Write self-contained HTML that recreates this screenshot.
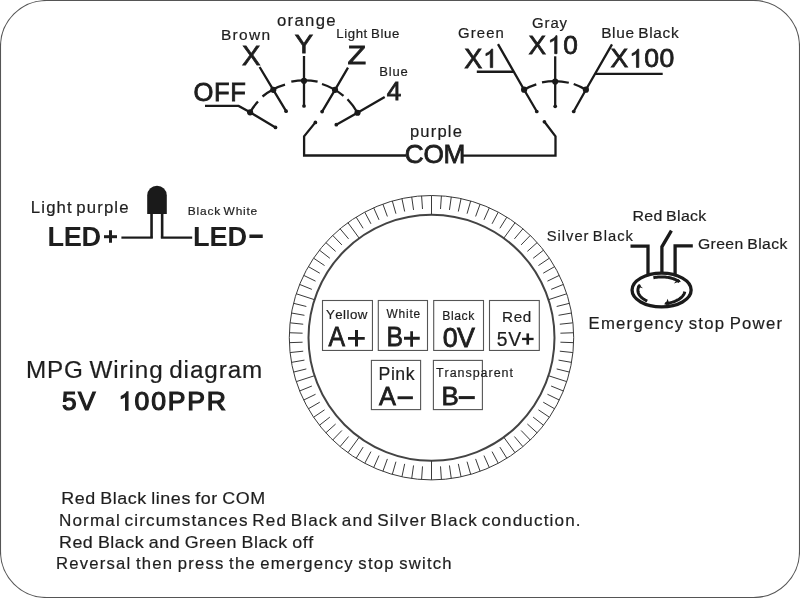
<!DOCTYPE html>
<html><head><meta charset="utf-8">
<style>
html,body{margin:0;padding:0;background:#fff;}
svg{display:block;will-change:transform;}
text{font-family:"Liberation Sans",sans-serif;font-kerning:none;fill:#1e1e1e;}
</style></head><body>
<svg width="800" height="598" viewBox="0 0 800 598">
<rect width="800" height="598" fill="#fff"/>
<polyline points="259.60,67.00 273.30,89.80 286.10,111.20" fill="none" stroke="#1a1a1a" stroke-width="2.3" stroke-linejoin="miter" stroke-linecap="butt"/>
<circle cx="273.30" cy="89.80" r="3.1" fill="#1a1a1a"/>
<circle cx="286.10" cy="111.20" r="1.85" fill="#1a1a1a"/>
<polyline points="304.00,56.00 304.00,106.00" fill="none" stroke="#1a1a1a" stroke-width="2.3" stroke-linejoin="miter" stroke-linecap="butt"/>
<circle cx="304.00" cy="80.80" r="3.1" fill="#1a1a1a"/>
<circle cx="304.00" cy="106.00" r="1.85" fill="#1a1a1a"/>
<polyline points="348.00,67.70 335.00,89.80 322.10,111.60" fill="none" stroke="#1a1a1a" stroke-width="2.3" stroke-linejoin="miter" stroke-linecap="butt"/>
<circle cx="335.00" cy="89.80" r="3.1" fill="#1a1a1a"/>
<circle cx="322.10" cy="111.60" r="1.85" fill="#1a1a1a"/>
<polyline points="384.70,97.00 357.50,112.75 336.30,124.70" fill="none" stroke="#1a1a1a" stroke-width="2.3" stroke-linejoin="miter" stroke-linecap="butt"/>
<circle cx="357.50" cy="112.75" r="3.1" fill="#1a1a1a"/>
<circle cx="336.30" cy="124.70" r="1.85" fill="#1a1a1a"/>
<polyline points="205.00,105.90 238.60,105.90 250.10,112.30 275.50,127.40" fill="none" stroke="#1a1a1a" stroke-width="2.3" stroke-linejoin="miter" stroke-linecap="butt"/>
<circle cx="250.10" cy="112.30" r="3.1" fill="#1a1a1a"/>
<circle cx="275.50" cy="127.40" r="1.85" fill="#1a1a1a"/>
<polyline points="315.40,122.40 304.10,136.40 304.10,155.50 406.00,155.50" fill="none" stroke="#1a1a1a" stroke-width="2.3" stroke-linejoin="miter" stroke-linecap="butt"/>
<circle cx="315.40" cy="122.40" r="1.85" fill="#1a1a1a"/>
<path d="M250.10,112.30 A62.7,62.7 0 0 1 258.00,101.50" fill="none" stroke="#1a1a1a" stroke-width="2.3"/>
<path d="M262.50,96.50 A62.7,62.7 0 0 1 285.00,84.60" fill="none" stroke="#1a1a1a" stroke-width="2.3"/>
<path d="M291.30,81.70 A62.7,62.7 0 0 1 317.60,81.70" fill="none" stroke="#1a1a1a" stroke-width="2.3"/>
<path d="M322.00,84.00 A62.7,62.7 0 0 1 343.50,95.90" fill="none" stroke="#1a1a1a" stroke-width="2.3"/>
<path d="M347.50,99.25 A62.7,62.7 0 0 1 357.50,112.75" fill="none" stroke="#1a1a1a" stroke-width="2.3"/>
<polyline points="498.00,44.10 524.10,89.70 536.80,111.50" fill="none" stroke="#1a1a1a" stroke-width="2.3" stroke-linejoin="miter" stroke-linecap="butt"/>
<circle cx="524.10" cy="89.70" r="3.1" fill="#1a1a1a"/>
<circle cx="536.80" cy="111.50" r="1.85" fill="#1a1a1a"/>
<polyline points="476.80,71.75 513.80,71.75" fill="none" stroke="#1a1a1a" stroke-width="2.3" stroke-linejoin="miter" stroke-linecap="butt"/>
<polyline points="555.20,56.30 555.20,106.30" fill="none" stroke="#1a1a1a" stroke-width="2.3" stroke-linejoin="miter" stroke-linecap="butt"/>
<circle cx="555.20" cy="81.60" r="3.1" fill="#1a1a1a"/>
<circle cx="555.20" cy="106.30" r="1.85" fill="#1a1a1a"/>
<polyline points="612.00,44.40 585.90,89.70 573.70,111.50" fill="none" stroke="#1a1a1a" stroke-width="2.3" stroke-linejoin="miter" stroke-linecap="butt"/>
<circle cx="585.90" cy="89.70" r="3.1" fill="#1a1a1a"/>
<circle cx="573.70" cy="111.50" r="1.85" fill="#1a1a1a"/>
<polyline points="595.10,73.80 662.70,73.80" fill="none" stroke="#1a1a1a" stroke-width="2.3" stroke-linejoin="miter" stroke-linecap="butt"/>
<polyline points="544.40,121.75 555.50,136.40 555.50,155.60 463.00,155.60" fill="none" stroke="#1a1a1a" stroke-width="2.3" stroke-linejoin="miter" stroke-linecap="butt"/>
<circle cx="544.40" cy="121.75" r="1.85" fill="#1a1a1a"/>
<path d="M524.10,89.70 A63,63 0 0 1 536.30,84.40" fill="none" stroke="#1a1a1a" stroke-width="2.3"/>
<path d="M542.00,82.40 A63,63 0 0 1 568.80,82.75" fill="none" stroke="#1a1a1a" stroke-width="2.3"/>
<path d="M573.70,84.00 A63,63 0 0 1 585.90,89.70" fill="none" stroke="#1a1a1a" stroke-width="2.3"/>
<path d="M147.2,214 L147.2,195.5 A9.8,9.8 0 0 1 166.8,195.5 L166.8,214 Z" fill="#1a1a1a"/>
<polyline points="151.55,213.00 151.55,237.60" fill="none" stroke="#1a1a1a" stroke-width="2.6" stroke-linejoin="miter" stroke-linecap="butt"/>
<polyline points="162.15,213.00 162.15,237.60" fill="none" stroke="#1a1a1a" stroke-width="2.6" stroke-linejoin="miter" stroke-linecap="butt"/>
<polyline points="121.40,237.60 152.85,237.60" fill="none" stroke="#1a1a1a" stroke-width="2.2" stroke-linejoin="miter" stroke-linecap="butt"/>
<polyline points="160.85,237.60 192.20,237.60" fill="none" stroke="#1a1a1a" stroke-width="2.2" stroke-linejoin="miter" stroke-linecap="butt"/>
<rect x="249.4" y="234.5" width="13.35" height="3.5" fill="#1e1e1e"/>
<circle cx="431.5" cy="337.7" r="142.2" fill="none" stroke="#3a3a3a" stroke-width="1"/>
<circle cx="431.5" cy="337.7" r="123" fill="none" stroke="#444" stroke-width="2"/>
<path d="M431.50,214.70L431.50,195.50M440.50,209.01L441.42,195.85M449.45,209.96L451.29,196.88M458.32,211.52L461.07,198.61M467.06,213.70L470.70,201.01M475.62,216.48L480.14,204.08M483.97,219.85L489.34,207.79M492.06,223.80L498.26,212.14M499.86,228.30L506.85,217.11M503.80,238.19L515.08,222.66M514.42,238.88L522.90,228.77M521.11,244.91L530.28,235.41M527.37,251.38L537.18,242.55M533.15,258.28L543.56,250.15M538.45,265.56L549.39,258.18M543.22,273.20L554.65,266.60M547.44,281.15L559.31,275.36M551.11,289.38L563.35,284.43M548.48,299.69L566.74,293.76M556.67,306.49L569.48,303.30M558.54,315.30L571.54,313.01M559.79,324.22L572.92,322.84M560.42,333.20L573.61,332.74M560.42,342.20L573.61,342.66M559.79,351.18L572.92,352.56M558.54,360.10L571.54,362.39M556.67,368.91L569.48,372.10M548.48,375.71L566.74,381.64M551.11,386.02L563.35,390.97M547.44,394.25L559.31,400.04M543.22,402.20L554.65,408.80M538.45,409.84L549.39,417.22M533.15,417.12L543.56,425.25M527.37,424.02L537.18,432.85M521.11,430.49L530.28,439.99M514.42,436.52L522.90,446.63M503.80,437.21L515.08,452.74M499.86,447.10L506.85,458.29M492.06,451.60L498.26,463.26M483.97,455.55L489.34,467.61M475.62,458.92L480.14,471.32M467.06,461.70L470.70,474.39M458.32,463.88L461.07,476.79M449.45,465.44L451.29,478.52M440.50,466.39L441.42,479.55M431.50,460.70L431.50,479.90M422.50,466.39L421.58,479.55M413.55,465.44L411.71,478.52M404.68,463.88L401.93,476.79M395.94,461.70L392.30,474.39M387.38,458.92L382.86,471.32M379.03,455.55L373.66,467.61M370.94,451.60L364.74,463.26M363.14,447.10L356.15,458.29M359.20,437.21L347.92,452.74M348.58,436.52L340.10,446.63M341.89,430.49L332.72,439.99M335.63,424.02L325.82,432.85M329.85,417.12L319.44,425.25M324.55,409.84L313.61,417.22M319.78,402.20L308.35,408.80M315.56,394.25L303.69,400.04M311.89,386.02L299.65,390.97M314.52,375.71L296.26,381.64M306.33,368.91L293.52,372.10M304.46,360.10L291.46,362.39M303.21,351.18L290.08,352.56M302.58,342.20L289.39,342.66M302.58,333.20L289.39,332.74M303.21,324.22L290.08,322.84M304.46,315.30L291.46,313.01M306.33,306.49L293.52,303.30M314.52,299.69L296.26,293.76M311.89,289.38L299.65,284.43M315.56,281.15L303.69,275.36M319.78,273.20L308.35,266.60M324.55,265.56L313.61,258.18M329.85,258.28L319.44,250.15M335.63,251.38L325.82,242.55M341.89,244.91L332.72,235.41M348.58,238.88L340.10,228.77M359.20,238.19L347.92,222.66M363.14,228.30L356.15,217.11M370.94,223.80L364.74,212.14M379.03,219.85L373.66,207.79M387.38,216.48L382.86,204.08M395.94,213.70L392.30,201.01M404.68,211.52L401.93,198.61M413.55,209.96L411.71,196.88M422.50,209.01L421.58,195.85" stroke="#3a3a3a" stroke-width="1" fill="none"/>
<rect x="322.50" y="300.50" width="49.95" height="49.95" fill="none" stroke="#555" stroke-width="1.1"/>
<rect x="378.30" y="300.50" width="49.20" height="49.95" fill="none" stroke="#555" stroke-width="1.1"/>
<rect x="433.70" y="300.50" width="49.80" height="49.95" fill="none" stroke="#555" stroke-width="1.1"/>
<rect x="489.50" y="300.50" width="49.80" height="49.95" fill="none" stroke="#555" stroke-width="1.1"/>
<rect x="371.40" y="360.40" width="49.20" height="49.20" fill="none" stroke="#555" stroke-width="1.1"/>
<rect x="433.40" y="360.40" width="49.00" height="49.20" fill="none" stroke="#555" stroke-width="1.1"/>
<rect x="348" y="337" width="16.75" height="2.75" fill="#1e1e1e"/><rect x="355" y="330" width="3" height="16.5" fill="#1e1e1e"/>
<rect x="404" y="336.75" width="15.75" height="3" fill="#1e1e1e"/><rect x="410.25" y="331.25" width="2.75" height="15.5" fill="#1e1e1e"/>
<rect x="522.05" y="337.8" width="11.55" height="2.3" fill="#1e1e1e"/><rect x="526.45" y="333.4" width="2.6" height="11.3" fill="#1e1e1e"/>
<rect x="104" y="235.2" width="13" height="3" fill="#1e1e1e"/><rect x="109" y="230.25" width="3" height="12.5" fill="#1e1e1e"/>
<rect x="397.55" y="396.3" width="15.35" height="2.9" fill="#1e1e1e"/>
<rect x="458.7" y="396.1" width="16.1" height="3.0" fill="#1e1e1e"/>
<polyline points="630.50,246.10 648.00,246.10 648.00,274.00" fill="none" stroke="#1a1a1a" stroke-width="3.3" stroke-linejoin="miter" stroke-linecap="butt"/>
<polyline points="671.40,230.60 661.90,246.80 661.90,274.00" fill="none" stroke="#1a1a1a" stroke-width="3.3" stroke-linejoin="miter" stroke-linecap="butt"/>
<polyline points="692.80,245.90 675.10,245.90 675.10,274.00" fill="none" stroke="#1a1a1a" stroke-width="3.3" stroke-linejoin="miter" stroke-linecap="butt"/>
<ellipse cx="661.6" cy="290.05" rx="29.55" ry="16.85" fill="none" stroke="#1a1a1a" stroke-width="3.3"/>
<polyline points="653.36,277.71 654.50,277.49 655.65,277.31 656.82,277.16 657.99,277.04 659.18,276.96 660.37,276.91 661.57,276.90 662.77,276.92 663.96,276.98 665.14,277.07 666.32,277.20 667.48,277.36 668.63,277.55 669.76,277.78 670.86,278.03 671.95,278.33 673.00,278.65 674.03,279.00 675.02,279.38 675.98,279.79 676.89,280.23 677.77,280.69 678.61,281.18 679.40,281.69" fill="none" stroke="#1a1a1a" stroke-width="3.0"/>
<polygon points="680.90,282.07 678.91,279.44 677.80,279.05 675.83,281.32 673.87,283.58 677.49,282.18" fill="#1a1a1a"/>
<polyline points="684.77,291.70 684.61,292.42 684.37,293.12 684.07,293.82 683.71,294.51 683.28,295.19 682.78,295.86 682.23,296.50 681.61,297.13 680.94,297.74 680.21,298.33 679.42,298.90 678.59,299.44 677.70,299.95 676.77,300.44 675.79,300.90 674.77,301.32 673.71,301.72 672.61,302.08 671.49,302.40 670.33,302.69 669.15,302.95 667.94,303.17 666.72,303.35 665.48,303.50" fill="none" stroke="#1a1a1a" stroke-width="3.0"/>
<polygon points="663.92,304.22 668.35,304.82 669.54,304.39 668.56,301.55 667.59,298.72 666.35,301.90" fill="#1a1a1a"/>
<polyline points="647.26,301.00 646.24,300.54 645.27,300.05 644.35,299.52 643.49,298.97 642.67,298.40 641.92,297.79 641.22,297.17 640.59,296.52 640.02,295.86 639.51,295.17 639.07,294.48 638.70,293.77 638.40,293.05 638.17,292.32 638.01,291.58 637.92,290.85 637.90,290.11 637.96,289.37 638.08,288.63 638.28,287.90 638.55,287.17 638.89,286.46 639.29,285.75 639.77,285.06" fill="none" stroke="#1a1a1a" stroke-width="3.0"/>
<polygon points="639.93,283.94 637.30,285.89 637.14,286.70 640.05,287.42 642.96,288.15 640.73,286.23" fill="#1a1a1a"/>
<rect x="0.5" y="0.5" width="799" height="597" rx="46" ry="46" fill="none" stroke="#555" stroke-width="1.1"/>
<text x="220.93" y="39.65" font-size="15.48" letter-spacing="1.324" stroke="#1e1e1e" stroke-width="0.2">Brown</text>
<text x="276.90" y="26.20" font-size="16.73" letter-spacing="1.333" stroke="#1e1e1e" stroke-width="0.2">orange</text>
<text transform="translate(294.85,53.05) scale(1.0669,1)" font-size="25.80" letter-spacing="0.000" stroke="#1e1e1e" stroke-width="0.8">Y</text>
<text transform="translate(241.88,65.30) scale(1.0233,1)" font-size="27.04" letter-spacing="0.000" stroke="#1e1e1e" stroke-width="0.8">X</text>
<text transform="translate(347.43,64.40) scale(1.1651,1)" font-size="26.16" letter-spacing="0.000" stroke="#1e1e1e" stroke-width="0.8">Z</text>
<text transform="translate(336.21,37.96) scale(1.0165,1)" font-size="13.02" letter-spacing="0.590" word-spacing="-1.003" stroke="#1e1e1e" stroke-width="0.2">Light Blue</text>
<text x="379.13" y="75.96" font-size="13.02" letter-spacing="0.860" stroke="#1e1e1e" stroke-width="0.2">Blue</text>
<text transform="translate(386.70,99.90) scale(1.0012,1)" font-size="26.16" letter-spacing="0.000" stroke="#1e1e1e" stroke-width="0.8">4</text>
<text x="193.44" y="101.00" font-size="25.58" letter-spacing="0.617" stroke="#1e1e1e" stroke-width="0.8">OFF</text>
<text x="458.10" y="38.35" font-size="14.90" letter-spacing="1.090" stroke="#1e1e1e" stroke-width="0.2">Green</text>
<text x="532.10" y="27.80" font-size="14.90" letter-spacing="0.881" stroke="#1e1e1e" stroke-width="0.2">Gray</text>
<path d="M492.70,67.60 L490.32,67.60 L490.32,53.08 L489.76,53.58 L488.88,54.23 L487.82,54.83 L486.83,55.32 L485.93,55.69 L485.93,53.49 L487.50,52.78 L488.88,51.92 L490.10,50.94 L490.97,49.96 L491.51,49.00 L492.70,49.00 Z" fill="#1e1e1e" stroke="#1e1e1e" stroke-width="0.8" stroke-linejoin="miter"/>
<text x="464.29" y="67.60" font-size="27.04" letter-spacing="0.303" stroke="#1e1e1e" stroke-width="0.8">X </text>
<path d="M557.00,53.70 L554.69,53.70 L554.69,39.61 L554.14,40.10 L553.30,40.72 L552.26,41.31 L551.30,41.79 L550.43,42.14 L550.43,40.01 L551.95,39.31 L553.30,38.48 L554.48,37.53 L555.32,36.59 L555.85,35.65 L557.00,35.65 Z" fill="#1e1e1e" stroke="#1e1e1e" stroke-width="0.8" stroke-linejoin="miter"/>
<text x="528.41" y="53.70" font-size="26.24" letter-spacing="1.316" stroke="#1e1e1e" stroke-width="0.8">X 0</text>
<text transform="translate(601.13,38.40) scale(1.0109,1)" font-size="15.26" letter-spacing="0.653" word-spacing="-1.247" stroke="#1e1e1e" stroke-width="0.2">Blue Black</text>
<path d="M638.78,67.40 L636.44,67.40 L636.44,53.11 L635.88,53.61 L635.02,54.24 L633.97,54.84 L633.00,55.32 L632.11,55.68 L632.11,53.52 L633.66,52.81 L635.02,51.97 L636.22,51.01 L637.07,50.05 L637.61,49.10 L638.78,49.10 Z" fill="#1e1e1e" stroke="#1e1e1e" stroke-width="0.8" stroke-linejoin="miter"/>
<text x="610.55" y="67.40" font-size="26.60" letter-spacing="0.572" stroke="#1e1e1e" stroke-width="0.8">X 00</text>
<text x="409.93" y="136.50" font-size="16.56" letter-spacing="1.184" stroke="#1e1e1e" stroke-width="0.2">purple</text>
<text x="404.77" y="163.35" font-size="26.24" letter-spacing="-0.262" stroke="#1e1e1e" stroke-width="0.8">COM</text>
<text transform="translate(30.83,212.65) scale(1.0068,1)" font-size="16.64" letter-spacing="1.138" word-spacing="-2.377" stroke="#1e1e1e" stroke-width="0.2">Light purple</text>
<text x="47.58" y="245.60" font-size="27.18" letter-spacing="-0.401" font-weight="bold">LED</text>
<text transform="translate(187.87,215.00) scale(1.0267,1)" font-size="11.63" letter-spacing="0.752" word-spacing="-1.311" stroke="#1e1e1e" stroke-width="0.2">Black White</text>
<text x="192.93" y="245.60" font-size="27.18" letter-spacing="-0.076" font-weight="bold">LED</text>
<text x="325.91" y="319.30" font-size="13.29" letter-spacing="0.485" stroke="#1e1e1e" stroke-width="0.2">Yellow</text>
<text transform="translate(328.60,346.10) scale(0.9127,1)" font-size="27.18" letter-spacing="0.000" stroke="#1e1e1e" stroke-width="0.8">A</text>
<text x="386.45" y="318.20" font-size="11.92" letter-spacing="0.816" stroke="#1e1e1e" stroke-width="0.2">White</text>
<text transform="translate(386.62,346.35) scale(0.9004,1)" font-size="27.54" letter-spacing="0.000" stroke="#1e1e1e" stroke-width="0.8">B</text>
<text x="442.30" y="319.70" font-size="12.21" letter-spacing="0.557" stroke="#1e1e1e" stroke-width="0.2">Black</text>
<text x="442.65" y="347.10" font-size="26.89" letter-spacing="-0.622" stroke="#1e1e1e" stroke-width="0.8">0V</text>
<text x="502.05" y="321.80" font-size="15.26" letter-spacing="0.619" stroke="#1e1e1e" stroke-width="0.2">Red</text>
<text x="496.73" y="346.00" font-size="19.33" letter-spacing="0.813" stroke="#1e1e1e" stroke-width="0.2">5V</text>
<text x="378.55" y="379.50" font-size="17.66" letter-spacing="0.556" stroke="#1e1e1e" stroke-width="0.2">Pink</text>
<text transform="translate(378.95,405.30) scale(0.9577,1)" font-size="26.45" letter-spacing="0.000" stroke="#1e1e1e" stroke-width="0.8">A</text>
<text x="435.92" y="376.70" font-size="12.50" letter-spacing="0.968" stroke="#1e1e1e" stroke-width="0.2">Transparent</text>
<text transform="translate(441.57,405.40) scale(0.9910,1)" font-size="26.16" letter-spacing="0.000" stroke="#1e1e1e" stroke-width="0.8">B</text>
<text transform="translate(546.63,241.10) scale(0.9665,1)" font-size="15.26" letter-spacing="1.034" word-spacing="-1.821" stroke="#1e1e1e" stroke-width="0.2">Silver Black</text>
<text transform="translate(632.54,220.60) scale(1.0434,1)" font-size="15.26" letter-spacing="0.316" word-spacing="-1.303" stroke="#1e1e1e" stroke-width="0.2">Red Black</text>
<text transform="translate(697.91,249.45) scale(1.0168,1)" font-size="15.48" letter-spacing="0.383" word-spacing="-0.999" stroke="#1e1e1e" stroke-width="0.2">Green Black</text>
<text transform="translate(588.48,329.45) scale(0.9924,1)" font-size="16.86" letter-spacing="1.256" word-spacing="-1.484" stroke="#1e1e1e" stroke-width="0.2">Emergency stop Power</text>
<text transform="translate(25.91,377.55) scale(1.0028,1)" font-size="24.20" letter-spacing="0.901" word-spacing="-2.026" stroke="#1e1e1e" stroke-width="0.2">MPG Wiring diagram</text>
<text x="62.05" y="409.90" font-size="26.31" letter-spacing="1.290" stroke="#1e1e1e" stroke-width="1.2">5V</text>
<path d="M127.96,410.20 L125.62,410.20 L125.62,395.91 L125.07,396.41 L124.21,397.04 L123.16,397.64 L122.18,398.12 L121.30,398.48 L121.30,396.32 L122.85,395.61 L124.21,394.77 L125.40,393.81 L126.26,392.85 L126.79,391.90 L127.96,391.90 Z" fill="#1e1e1e" stroke="#1e1e1e" stroke-width="1.2" stroke-linejoin="miter"/>
<text x="118.05" y="410.20" font-size="26.60" letter-spacing="1.752" stroke="#1e1e1e" stroke-width="1.2"> 00PPR</text>
<text transform="translate(61.33,504.00) scale(1.0440,1)" font-size="17.15" letter-spacing="0.548" word-spacing="-1.097" stroke="#1e1e1e" stroke-width="0.2">Red Black lines for COM</text>
<text transform="translate(58.95,526.10) scale(0.9984,1)" font-size="17.15" letter-spacing="1.141" word-spacing="-2.314" stroke="#1e1e1e" stroke-width="0.2">Normal circumstances Red Black and Silver Black conduction.</text>
<text transform="translate(59.03,548.00) scale(1.0420,1)" font-size="17.15" letter-spacing="0.480" word-spacing="-0.771" stroke="#1e1e1e" stroke-width="0.2">Red Black and Green Black off</text>
<text transform="translate(55.93,568.80) scale(0.9721,1)" font-size="17.15" letter-spacing="1.268" word-spacing="-1.487" stroke="#1e1e1e" stroke-width="0.2">Reversal then press the emergency stop switch</text>
</svg>
</body></html>
